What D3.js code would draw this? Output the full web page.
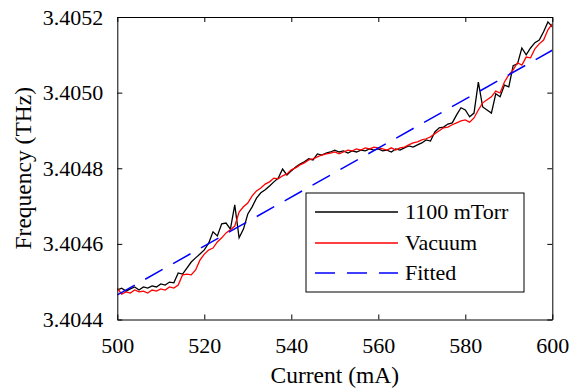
<!DOCTYPE html>
<html>
<head>
<meta charset="utf-8">
<script src="https://cdn.jsdelivr.net/npm/d3@7"></script>
<style>
  body { margin: 0; background: #fff; }
  svg { display: block; }
  text { font-family: "Liberation Serif", "Times New Roman", serif; fill: #000; }
</style>
</head>
<body>
<div id="chart"></div>
<script>
// current (mA)
const current = [500,501,502,503,504,505,506,507,508,509,510,511,512,513,514,515,516,517,518,519,
  520,521,522,523,524,525,526,527,528,529,530,531,532,533,534,535,536,537,538,539,
  540,541,542,543,544,545,546,547,548,549,550,551,552,553,554,555,556,557,558,559,
  560,561,562,563,564,565,566,567,568,569,570,571,572,573,574,575,576,577,578,579,
  580,581,582,583,584,585,586,587,588,589,590,591,592,593,594,595,596,597,598,599,600];

// frequency (THz) at 1100 mTorr
const freq1100 = [3.404478,3.404483,3.404475,3.404481,3.404486,3.404478,3.404486,3.404483,3.404489,3.404486,
  3.404494,3.404491,3.404499,3.404497,3.404523,3.404520,3.404536,3.404552,3.404563,3.404573,
  3.404584,3.404602,3.404632,3.404621,3.404653,3.404655,3.404639,3.404703,3.404616,3.404639,
  3.404679,3.404698,3.404721,3.404735,3.404743,3.404753,3.404764,3.404774,3.404798,3.404782,
  3.404793,3.404803,3.404811,3.404817,3.404825,3.404822,3.404838,3.404835,3.404840,3.404843,
  3.404848,3.404843,3.404846,3.404840,3.404846,3.404843,3.404848,3.404846,3.404851,3.404848,
  3.404851,3.404846,3.404848,3.404843,3.404851,3.404848,3.404854,3.404859,3.404856,3.404862,
  3.404867,3.404875,3.404872,3.404896,3.404907,3.404909,3.404917,3.404920,3.404941,3.404960,
  3.404954,3.404936,3.404946,3.405028,3.404962,3.404954,3.404946,3.404997,3.404989,3.405020,
  3.405015,3.405071,3.405076,3.405118,3.405100,3.405118,3.405132,3.405139,3.405161,3.405187,3.405174];

// frequency (THz) in vacuum
const freqVacuum = [3.404483,3.404467,3.404473,3.404470,3.404478,3.404473,3.404475,3.404470,3.404478,3.404475,
  3.404481,3.404478,3.404486,3.404483,3.404491,3.404518,3.404520,3.404518,3.404531,3.404557,
  3.404573,3.404584,3.404589,3.404605,3.404616,3.404629,3.404637,3.404647,3.404684,3.404698,
  3.404708,3.404727,3.404740,3.404748,3.404758,3.404764,3.404774,3.404772,3.404780,3.404785,
  3.404796,3.404801,3.404809,3.404814,3.404822,3.404825,3.404830,3.404835,3.404838,3.404840,
  3.404843,3.404838,3.404843,3.404848,3.404846,3.404851,3.404848,3.404854,3.404851,3.404856,
  3.404854,3.404851,3.404848,3.404854,3.404848,3.404854,3.404856,3.404862,3.404867,3.404870,
  3.404875,3.404878,3.404883,3.404891,3.404899,3.404907,3.404909,3.404915,3.404920,3.404925,
  3.404928,3.404922,3.404933,3.404954,3.404973,3.404981,3.404989,3.405004,3.404999,3.405028,
  3.405047,3.405060,3.405079,3.405073,3.405094,3.405092,3.405116,3.405129,3.405139,3.405166,3.405182];

// fitted line end points
const fitCurrent = [500, 600];
const fitFreq = [3.404465, 3.405112];

const xTicks = [500, 520, 540, 560, 580, 600];
const yTicks = [3.4044, 3.4046, 3.4048, 3.4050, 3.4052];

const seriesNames = ["1100 mTorr", "Vacuum", "Fitted"];
const seriesColors = ["#000000", "#ff0000", "#0000ff"];

const width = 570, height = 390;
const plotLeft = 117.3, plotRight = 552.3, plotTop = 17, plotBottom = 319.5;

const svg = d3.select("#chart").append("svg")
  .attr("width", width).attr("height", height);

const x = d3.scaleLinear().domain([500, 600]).range([plotLeft, plotRight]);
const y = d3.scaleLinear().domain([3.4044, 3.4052]).range([plotBottom, plotTop]);

svg.append("defs").append("clipPath").attr("id", "clip")
  .append("rect").attr("x", plotLeft).attr("y", plotTop)
  .attr("width", plotRight - plotLeft).attr("height", plotBottom - plotTop);

const line = d3.line().x(d => x(d[0])).y(d => y(d[1]));

const plot = svg.append("g").attr("clip-path", "url(#clip)");

plot.append("path")
  .datum(current.map((c, i) => [c, freq1100[i]]))
  .attr("d", line).attr("fill", "none")
  .attr("stroke", seriesColors[0]).attr("stroke-width", 1.3);

plot.append("path")
  .datum(current.map((c, i) => [c, freqVacuum[i]]))
  .attr("d", line).attr("fill", "none")
  .attr("stroke", seriesColors[1]).attr("stroke-width", 1.3);

plot.append("path")
  .datum(fitCurrent.map((c, i) => [c, fitFreq[i]]))
  .attr("d", line).attr("fill", "none")
  .attr("stroke", seriesColors[2]).attr("stroke-width", 1.5)
  .attr("stroke-dasharray", "20,12");

// axes, ticks pointing inward on all four sides
function styleAxis(g) {
  g.selectAll("path.domain").attr("stroke", "#000").attr("stroke-width", 1);
  g.selectAll(".tick line").attr("stroke", "#000").attr("stroke-width", 1);
  g.selectAll(".tick text").attr("font-size", 22)
    .attr("font-family", "Liberation Serif, Times New Roman, serif");
}

svg.append("g").attr("transform", `translate(0,${plotBottom})`)
  .call(d3.axisBottom(x).tickValues(xTicks).tickSizeInner(-5).tickSizeOuter(0).tickPadding(18))
  .call(styleAxis);

svg.append("g").attr("transform", `translate(0,${plotTop})`)
  .call(d3.axisTop(x).tickValues(xTicks).tickSizeInner(-5).tickSizeOuter(0).tickFormat(""))
  .call(styleAxis);

svg.append("g").attr("transform", `translate(${plotLeft},0)`)
  .call(d3.axisLeft(y).tickValues(yTicks).tickSizeInner(-5).tickSizeOuter(0).tickPadding(14)
    .tickFormat(d3.format(".4f")))
  .call(styleAxis);

svg.append("g").attr("transform", `translate(${plotRight},0)`)
  .call(d3.axisRight(y).tickValues(yTicks).tickSizeInner(-5).tickSizeOuter(0).tickFormat(""))
  .call(styleAxis);

// axis titles
svg.append("text")
  .attr("x", (plotLeft + plotRight) / 2).attr("y", 383)
  .attr("text-anchor", "middle").attr("font-size", 23.5)
  .text("Current (mA)");

svg.append("text")
  .attr("transform", `translate(31,${(plotTop + plotBottom) / 2}) rotate(-90)`)
  .attr("text-anchor", "middle").attr("font-size", 23.5)
  .text("Frequency (THz)");

// legend
const legend = svg.append("g");
legend.append("rect")
  .attr("x", 306).attr("y", 193).attr("width", 218).attr("height", 99)
  .attr("fill", "#fff").attr("stroke", "#000").attr("stroke-width", 1);

const rowY = [212, 243, 273];
seriesNames.forEach((name, i) => {
  legend.append("line")
    .attr("x1", 315).attr("x2", 398).attr("y1", rowY[i]).attr("y2", rowY[i])
    .attr("stroke", seriesColors[i]).attr("stroke-width", i === 2 ? 1.5 : 1.3)
    .attr("stroke-dasharray", i === 2 ? "20,12" : null);
  legend.append("text")
    .attr("x", 405).attr("y", rowY[i]).attr("dy", "0.33em")
    .attr("font-size", 22).text(name);
});
</script>
</body>
</html>
